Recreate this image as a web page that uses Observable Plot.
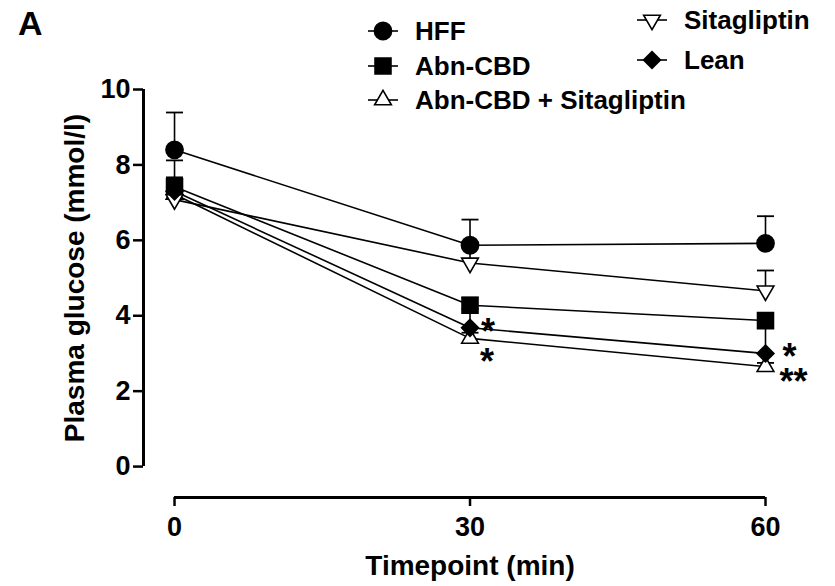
<!DOCTYPE html>
<html><head><meta charset="utf-8">
<script src="https://cdn.jsdelivr.net/npm/d3@7"></script>
<script src="https://cdn.jsdelivr.net/npm/@observablehq/plot@0.6"></script>
<style>
body{margin:0;background:#fff;}
#wrap{position:relative;width:835px;height:586px;font-family:"Liberation Sans",Arial,sans-serif;font-weight:bold;color:#000;}
#wrap svg.plot{position:absolute;left:0;top:0;}
.leg{position:absolute;display:flex;align-items:center;font-size:26px;line-height:1;white-space:nowrap;transform:translateY(-50%);}
.leg svg{margin-right:17px;overflow:visible;}
.panel{position:absolute;left:18px;top:6px;font-size:34px;line-height:1;}
</style></head><body><div id="wrap"></div>
<script>
// ---- data ----
const times = [0, 30, 60];
const groups = ["HFF", "Abn-CBD", "Abn-CBD + Sitagliptin", "Sitagliptin", "Lean"];
const hff      = [8.40, 5.87, 5.92];  const hffErr   = [0.99, 0.68, 0.72];
const abn      = [7.42, 4.28, 3.87];  const abnErr   = [0.70, 0.20, 0.20];
const combo    = [7.22, 3.40, 2.65];  const comboErr = [0.25, 0.15, 0.10];
const sita     = [7.08, 5.40, 4.66];  const sitaErr  = [0.30, 0.45, 0.54];
const lean     = [7.30, 3.68, 3.00];  const leanErr  = [0.37, 0.50, 0.75];
const sigGroup = ["Lean", "Abn-CBD + Sitagliptin", "Lean", "Abn-CBD + Sitagliptin"];
const sigTime  = [30, 30, 60, 60];
const sigText  = ["*", "*", "*", "**"];
const yTicks = [0, 2, 4, 6, 8, 10];
const xTicks = [0, 30, 60];

// ---- styles ----
const style = {
  "HFF":                   {symbol: "circle",   r: 8.6, fill: "black", rotate: 0},
  "Abn-CBD":               {symbol: "square",   r: 9.0, fill: "black", rotate: 0},
  "Abn-CBD + Sitagliptin": {symbol: "triangle", r: 6.2, fill: "white", rotate: 0},
  "Sitagliptin":           {symbol: "triangle", r: 6.2, fill: "white", rotate: 180},
  "Lean":                  {symbol: "diamond2", r: 7.6, fill: "black", rotate: 0}
};
const sigOffset = [[18, 5], [17, 24], [24, 4], [28, 16]];
const font = '"Liberation Sans", Arial, sans-serif';

const series = {"HFF": [hff, hffErr], "Abn-CBD": [abn, abnErr], "Abn-CBD + Sitagliptin": [combo, comboErr],
                "Sitagliptin": [sita, sitaErr], "Lean": [lean, leanErr]};
const rows = [];
for (const g of groups) times.forEach((t, i) => rows.push({group: g, t, v: series[g][0][i], e: series[g][1][i]}));
const valueOf = (g, t) => rows.find(r => r.group === g && r.t === t).v;

const xDomain = [-3.15, 60];
const yDomain = [-0.82, 10];
const capSymbol = {draw(ctx) { ctx.moveTo(-8.5, 0); ctx.lineTo(8.5, 0); }};

const marks = [
  // axes
  Plot.ruleX([xDomain[0]], {y1: yTicks[0], y2: yTicks[yTicks.length - 1], strokeWidth: 3}),
  Plot.ruleY([yDomain[0]], {x1: xTicks[0], x2: xTicks[xTicks.length - 1], strokeWidth: 3}),
  Plot.axisY(yTicks, {tickSize: 10, tickPadding: 3, strokeWidth: 2.5, fontSize: 27, fontWeight: "bold", fontFamily: font, label: null}),
  Plot.axisX(xTicks, {tickSize: 9, tickPadding: 10, strokeWidth: 2.5, fontSize: 27, fontWeight: "bold", fontFamily: font, label: null}),
  Plot.text(["Timepoint (min)"], {x: () => 30, frameAnchor: "bottom", dy: 77, fontSize: 28, fontWeight: "bold", fontFamily: font}),
  Plot.text(["Plasma glucose (mmol/l)"], {y: () => 5, frameAnchor: "left", textAnchor: "middle", dx: -68, rotate: -90, fontSize: 28, fontWeight: "bold", fontFamily: font}),
  // error bars (upward)
  Plot.ruleX(rows, {x: "t", y1: "v", y2: d => d.v + d.e, strokeWidth: 1.6}),
  Plot.dot(rows, {x: "t", y: d => d.v + d.e, symbol: capSymbol, stroke: "black", strokeWidth: 1.8, fill: "none"}),
  // lines
  Plot.line(rows, {x: "t", y: "v", z: "group", stroke: "black", strokeWidth: 1.6}),
  // symbols
  ...groups.map(g => Plot.dot(rows.filter(r => r.group === g), {
    x: "t", y: "v", symbol: style[g].symbol, r: style[g].r, rotate: style[g].rotate,
    fill: style[g].fill, stroke: "black", strokeWidth: 1.6
  })),
  // significance marks
  ...sigText.map((s, i) => Plot.text([s], {
    x: () => sigTime[i], y: () => valueOf(sigGroup[i], sigTime[i]), text: d => d,
    dx: sigOffset[i][0], dy: sigOffset[i][1], textAnchor: "middle", fontSize: 36, fontWeight: "bold", fontFamily: font
  }))
];

const chart = Plot.plot({
  width: 835, height: 586,
  marginLeft: 143, marginRight: 70, marginTop: 89, marginBottom: 89,
  x: {domain: xDomain}, y: {domain: yDomain},
  style: {fontFamily: font, background: "transparent"},
  marks
});
chart.classList.add("plot");
const wrap = document.getElementById("wrap");
wrap.appendChild(chart);

// ---- panel letter & legend (HTML overlay) ----
const panel = document.createElement("div");
panel.className = "panel"; panel.textContent = "A";
wrap.appendChild(panel);

const legendPos = {
  "HFF": [368, 31], "Abn-CBD": [368, 66], "Abn-CBD + Sitagliptin": [368, 100],
  "Sitagliptin": [637, 20], "Lean": [637, 60]
};
for (const g of groups) {
  const s = style[g];
  const item = document.createElement("div");
  item.className = "leg";
  item.style.left = legendPos[g][0] + "px";
  item.style.top = legendPos[g][1] + "px";
  const sym = d3.symbol(s.symbol === "circle" ? d3.symbolCircle : s.symbol === "square" ? d3.symbolSquare :
                        s.symbol === "triangle" ? d3.symbolTriangle : d3.symbolDiamond2, Math.PI * s.r * s.r)();
  item.innerHTML = `<svg width="30" height="20" viewBox="-15 -10 30 20">
    <line x1="-15" x2="15" y1="0" y2="0" stroke="black" stroke-width="1.6"/>
    <path d="${sym}" transform="rotate(${s.rotate})" fill="${s.fill}" stroke="black" stroke-width="1.6"/></svg><span>${g}</span>`;
  wrap.appendChild(item);
}
</script></body></html>
